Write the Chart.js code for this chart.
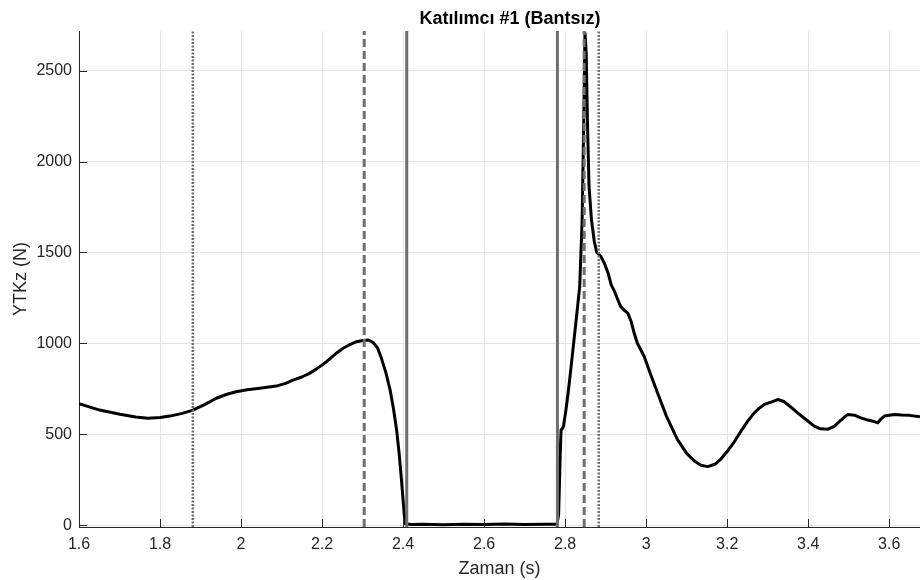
<!DOCTYPE html>
<html>
<head>
<meta charset="utf-8">
<script src="https://cdn.jsdelivr.net/npm/chart.js@4/dist/chart.umd.min.js"></script>
<style>
  html, body { margin: 0; padding: 0; background: #ffffff; }
  #wrap { width: 920px; height: 580px; }
</style>
</head>
<body>
<div id="wrap"><canvas id="forceChart" width="920" height="580"></canvas></div>
<script>
// Force trace
const timeS = [
    1.600, 1.651, 1.701, 1.740, 1.770, 1.800, 1.824, 1.855, 1.881, 1.910,
    1.939, 1.965, 1.988, 2.015, 2.046, 2.087, 2.110, 2.128, 2.150, 2.169,
    2.190, 2.211, 2.232, 2.252, 2.270, 2.285, 2.300, 2.315, 2.326, 2.337,
    2.347, 2.358, 2.368, 2.376, 2.384, 2.390, 2.396, 2.401, 2.405, 2.420,
    2.450, 2.500, 2.550, 2.600, 2.650, 2.700, 2.750, 2.780, 2.784, 2.788,
    2.790, 2.793, 2.796, 2.802, 2.807, 2.812, 2.821, 2.829, 2.836, 2.842,
    2.846, 2.849, 2.852, 2.855, 2.859, 2.865, 2.872, 2.878, 2.888, 2.897,
    2.906, 2.914, 2.921, 2.930, 2.937, 2.947, 2.955, 2.963, 2.970, 2.978,
    2.995, 3.010, 3.028, 3.050, 3.077, 3.100, 3.119, 3.135, 3.152, 3.170,
    3.185, 3.201, 3.218, 3.234, 3.250, 3.267, 3.280, 3.292, 3.310, 3.325,
    3.340, 3.357, 3.374, 3.395, 3.415, 3.430, 3.448, 3.465, 3.482, 3.498,
    3.514, 3.530, 3.547, 3.560, 3.572, 3.580, 3.588, 3.600, 3.613, 3.630,
    3.650, 3.676
];
const forceN = [
    668, 633, 610, 595, 588, 592, 600, 615, 633, 663,
    698, 720, 734, 745, 753, 765, 780, 798, 815, 835,
    865, 899, 940, 973, 995, 1009, 1016, 1018, 1005, 975,
    915, 835, 743, 645, 524, 400, 249, 110, 8, 4,
    5, 3, 5, 4, 6, 4, 5, 5, 60, 400,
    525, 530, 545, 634, 720, 817, 1000, 1165, 1313, 1680,
    2230, 2706, 2600, 2230, 1863, 1680, 1560, 1500, 1479, 1440,
    1387, 1320, 1290, 1240, 1203, 1180, 1165, 1120, 1060, 1002,
    929, 835, 728, 600, 472, 395, 353, 330, 322, 335,
    365, 408, 460, 517, 570, 618, 645, 664, 678, 691,
    680, 650, 618, 580, 545, 530, 527, 545, 580, 609,
    605, 590, 578, 572, 563, 585, 600, 605, 609, 606,
    604, 596
];

// event markers (vertical lines)
const markerX = [1.881, 2.304, 2.409, 2.781, 2.847, 2.883];
const markerKind = ['dotted', 'dashed', 'solid', 'solid', 'dashed', 'dotted'];

const xTicks = [1.6, 1.8, 2.0, 2.2, 2.4, 2.6, 2.8, 3.0, 3.2, 3.4, 3.6];
const yTicks = [0, 500, 1000, 1500, 2000, 2500];
const xMin = 1.6, xMax = 3.676;
const yMin = -10, yMax = 2718;

const FONT = "'Liberation Sans', Arial, Helvetica, sans-serif";
const AXIS = '#262626';

const lineStyles = {
    dotted: { borderDash: [2, 1.5], borderWidth: 2.5 },
    dashed: { borderDash: [8, 4], borderWidth: 3 },
    solid: { borderDash: [], borderWidth: 3 }
};

const markerSets = markerX.map((x, i) => ({
    data: [{ x: x, y: yMin }, { x: x, y: yMax }],
    borderColor: '#6e6e6e',
    borderDash: lineStyles[markerKind[i]].borderDash,
    borderWidth: lineStyles[markerKind[i]].borderWidth,
    borderCapStyle: 'butt',
    showLine: true,
    pointRadius: 0,
    order: 0
}));

// MATLAB style: tick marks point inwards
const innerTicks = {
    id: 'innerTicks',
    afterDraw(chart) {
        const { ctx, chartArea, scales } = chart;
        ctx.save();
        ctx.strokeStyle = AXIS;
        ctx.lineWidth = 1;
        ctx.beginPath();
        xTicks.forEach(v => {
            const px = Math.round(scales.x.getPixelForValue(v)) + 0.5;
            ctx.moveTo(px, chartArea.bottom);
            ctx.lineTo(px, chartArea.bottom - 8);
        });
        yTicks.forEach(v => {
            const py = Math.round(scales.y.getPixelForValue(v)) + 0.5;
            ctx.moveTo(chartArea.left, py);
            ctx.lineTo(chartArea.left + 8, py);
        });
        ctx.stroke();
        ctx.restore();
    }
};

// title centred over the full (cropped) axes
const topTitle = {
    id: 'topTitle',
    afterDraw(chart) {
        const ctx = chart.ctx;
        ctx.save();
        ctx.font = "bold 18px " + FONT;
        ctx.fillStyle = '#000000';
        ctx.textAlign = 'center';
        ctx.textBaseline = 'middle';
        ctx.fillText('Katılımcı #1 (Bantsız)', 510, 19);
        ctx.restore();
    }
};

new Chart(document.getElementById('forceChart'), {
    type: 'scatter',
    data: {
        datasets: [
            {
                data: timeS.map((t, i) => ({ x: t, y: forceN[i] })),
                borderColor: '#000000',
                borderWidth: 3,
                borderJoinStyle: 'round',
                showLine: true,
                pointRadius: 0,
                tension: 0,
                order: 1
            },
            ...markerSets
        ]
    },
    options: {
        responsive: false,
        animation: false,
        layout: {
            padding: { top: 31, right: 0, bottom: 0, left: 0 }
        },
        plugins: {
            legend: { display: false },
            tooltip: { enabled: false },
            title: { display: false }
        },
        scales: {
            x: {
                type: 'linear',
                min: xMin,
                max: xMax,
                afterBuildTicks: (scale) => {
                    scale.ticks = xTicks.map(v => ({ value: v }));
                },
                afterFit: (scale) => {
                    scale.height = 53;
                },
                ticks: {
                    color: AXIS,
                    padding: 8,
                    maxRotation: 0,
                    font: { family: FONT, size: 16 },
                    callback: (v) => String(Number(v.toFixed(1)))
                },
                grid: {
                    color: '#e4e4e4',
                    drawTicks: false
                },
                border: { color: AXIS, width: 1 },
                title: {
                    display: true,
                    text: 'Zaman (s)',
                    color: AXIS,
                    font: { family: FONT, size: 18 },
                    padding: { top: 0, bottom: 0 }
                }
            },
            y: {
                type: 'linear',
                min: yMin,
                max: yMax,
                afterBuildTicks: (scale) => {
                    scale.ticks = yTicks.map(v => ({ value: v }));
                },
                afterFit: (scale) => {
                    scale.width = 79;
                },
                ticks: {
                    color: AXIS,
                    padding: 7,
                    font: { family: FONT, size: 16 },
                    callback: (v) => String(v)
                },
                grid: {
                    color: '#e4e4e4',
                    drawTicks: false
                },
                border: { color: AXIS, width: 1 },
                title: {
                    display: true,
                    text: 'YTKz (N)',
                    color: AXIS,
                    font: { family: FONT, size: 18 },
                    padding: { top: 10, bottom: 0 }
                }
            }
        }
    },
    plugins: [innerTicks, topTitle]
});
</script>
</body>
</html>
